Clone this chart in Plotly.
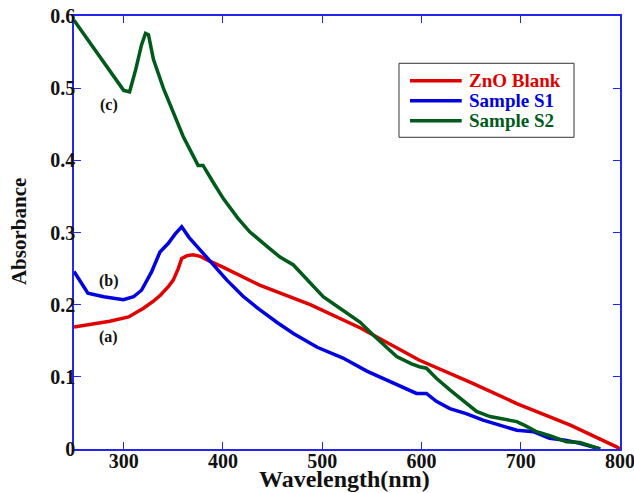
import plotly.graph_objects as go

# ZnO Blank
wl_a = [250, 270, 286, 305, 320, 330, 337, 345, 350, 355, 358.5, 364, 370, 377, 384, 400, 437, 488, 538, 598, 650, 696, 750, 796.5, 800]
ab_a = [0.169, 0.174, 0.177, 0.183, 0.195, 0.205, 0.213, 0.225, 0.234, 0.250, 0.264, 0.268, 0.269, 0.267, 0.262, 0.252, 0.227, 0.200, 0.168, 0.123, 0.092, 0.063, 0.033, 0.003, 0.0]

# Sample S1
wl_b = [250, 256, 264, 280, 299.7, 310, 318, 328, 336.6, 345, 352, 358.5, 366, 377, 390, 404, 420, 437, 455, 471, 495, 521, 545, 561.5, 580, 595, 605, 615, 628.6, 645, 662, 680, 696, 705, 712.6, 729, 745, 759.5, 770, 776, 780]
ab_b = [0.246, 0.233, 0.216, 0.211, 0.207, 0.211, 0.220, 0.245, 0.273, 0.285, 0.298, 0.308, 0.293, 0.276, 0.255, 0.234, 0.212, 0.193, 0.175, 0.160, 0.141, 0.126, 0.108, 0.098, 0.087, 0.077, 0.077, 0.066, 0.056, 0.049, 0.040, 0.033, 0.026, 0.025, 0.024, 0.015, 0.012, 0.008, 0.004, 0.001, 0.0]

# Sample S2
wl_c = [250, 275, 300, 306, 312, 318, 322, 325, 330, 340, 350, 360, 375, 380, 390, 400.4, 415, 427, 445, 457.5, 471, 485, 501, 520, 538, 553, 565, 575, 590, 598, 605, 615, 628.6, 645, 655.5, 669, 685, 696, 705, 716, 730, 746, 759.5, 770, 776, 780]
ab_c = [0.594, 0.545, 0.497, 0.495, 0.525, 0.560, 0.576, 0.574, 0.540, 0.500, 0.465, 0.433, 0.393, 0.393, 0.370, 0.347, 0.320, 0.301, 0.280, 0.266, 0.255, 0.234, 0.211, 0.193, 0.176, 0.156, 0.140, 0.128, 0.118, 0.114, 0.112, 0.098, 0.082, 0.063, 0.052, 0.045, 0.041, 0.038, 0.032, 0.024, 0.018, 0.010, 0.009, 0.005, 0.002, 0.0]

names = ["ZnO Blank", "Sample S1", "Sample S2"]
colors = ["#e00000", "#0000e0", "#005a1a"]
x_ticks = [300, 400, 500, 600, 700, 800]
y_ticks = [0, 0.1, 0.2, 0.3, 0.4, 0.5, 0.6]
y_tick_text = ["0", "0.1", "0.2", "0.3", "0.4", "0.5", "0.6"]
curve_labels = ["(a)", "(b)", "(c)"]
label_x = [285, 285, 285]
label_y = [0.155, 0.233, 0.477]

fig = go.Figure()
for wl, ab, nm, col in zip([wl_a, wl_b, wl_c], [ab_a, ab_b, ab_c], names, colors):
    fig.add_trace(go.Scatter(
        x=wl, y=ab, mode="lines", name=nm, showlegend=False,
        line=dict(color=col, width=3.5),
    ))

for t, lx, ly in zip(curve_labels, label_x, label_y):
    fig.add_annotation(x=lx, y=ly, text=f"<b>{t}</b>", showarrow=False,
                       font=dict(family="Liberation Serif", size=16, color="#111"))

# custom legend box (paper coordinates)
fig.add_shape(type="rect", xref="paper", yref="paper", x0=0.5952, x1=0.9158, y0=0.7199, y1=0.8908,
              line=dict(color="#333", width=1), fillcolor="white", layer="above")
leg_y = [0.8506, 0.8044, 0.7582]
for nm, col, ly in zip(names, colors, leg_y):
    fig.add_shape(type="line", xref="paper", yref="paper", x0=0.6154, x1=0.7101, y0=ly, y1=ly,
                  line=dict(color=col, width=3.5), layer="above")
    fig.add_annotation(xref="paper", yref="paper", x=0.7198, y=ly, xanchor="left", yanchor="middle",
                       text=f"<b>{nm}</b>", showarrow=False,
                       font=dict(family="Liberation Serif", size=19, color=col))

# axis titles
fig.add_annotation(xref="paper", yref="paper", x=0.496, y=-0.1016, xanchor="center", yanchor="bottom",
                   text="<b>Wavelength(nm)</b>", showarrow=False, borderpad=0,
                   font=dict(family="Liberation Serif", size=24, color="#111"))
fig.add_annotation(xref="paper", yref="paper", x=-0.101, y=0.503, xanchor="center", yanchor="middle",
                   text="<b>Absorbance</b>", textangle=-90, showarrow=False,
                   font=dict(family="Liberation Serif", size=21, color="#111"))

axis_col = "#2525f0"
fig.update_layout(
    width=634, height=493,
    margin=dict(l=74, r=14, t=16, b=44, autoexpand=False),
    paper_bgcolor="white", plot_bgcolor="white",
    font=dict(family="Liberation Serif", color="#111"),
    showlegend=False,
    xaxis=dict(
        range=[250, 800], tickvals=x_ticks, automargin=False,
        showline=True, linecolor=axis_col, linewidth=1.5, mirror="ticks",
        ticks="inside", tickcolor=axis_col, ticklen=7,
        showgrid=False, zeroline=False, ticklabelstandoff=-7,
        ticklabeloverflow="allow",
        tickfont=dict(family="Liberation Serif", size=20, weight="bold", color="#111"),
    ),
    yaxis=dict(
        range=[0, 0.6], tickvals=y_ticks, ticktext=y_tick_text, automargin=False,
        showline=True, linecolor=axis_col, linewidth=1.5, mirror="ticks",
        ticks="inside", tickcolor=axis_col, ticklen=7,
        showgrid=False, zeroline=False, ticklabelstandoff=-7,
        ticklabeloverflow="allow",
        tickfont=dict(family="Liberation Serif", size=20, weight="bold", color="#111"),
    ),
)

fig.write_html(
    "out.html",
    config={"displayModeBar": False},
    post_script="document.documentElement.style.overflow='hidden';"
                "document.body.style.margin='0';document.body.style.overflow='hidden';",
)
